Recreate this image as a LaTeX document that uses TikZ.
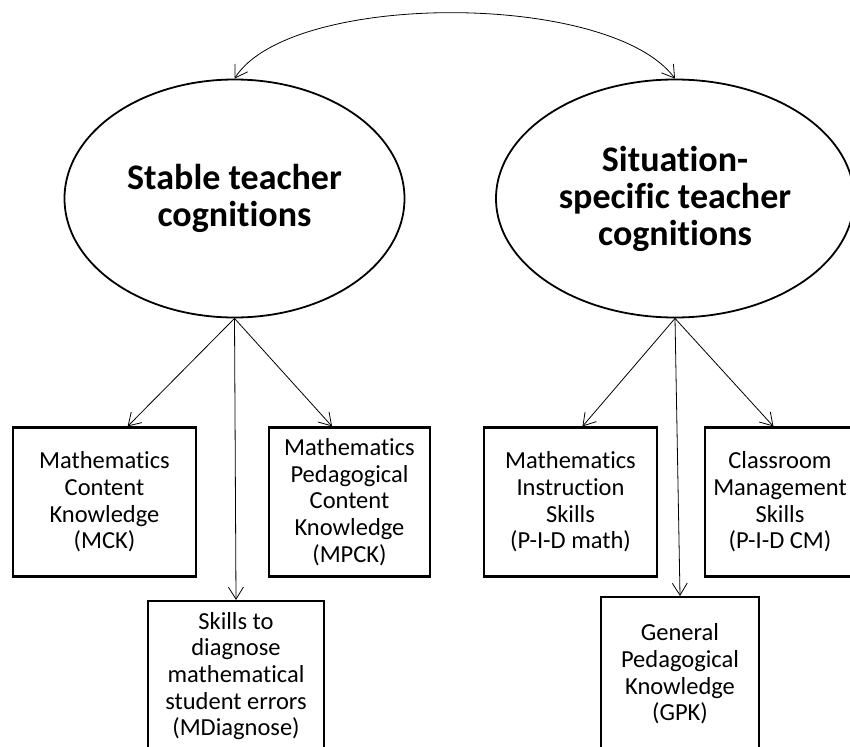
\documentclass[tikz,border=0pt]{standalone}
\usepackage{fontspec}
\setmainfont{Carlito}[Ligatures = NoCommon]
\usetikzlibrary{shapes.geometric, arrows.meta}

\begin{document}
\begin{tikzpicture}[x = 1pt, y = -1pt,
  cogn/.style = {ellipse, draw, line width = 1.8pt, inner sep = 0pt,
    minimum width = 340pt, minimum height = 238pt, align = center,
    font = \fontsize{36}{37}\selectfont\bfseries},
  skill/.style = {rectangle, draw, line width = 2.2pt, inner sep = 0pt,
    align = center, minimum height = 149pt,
    font = \fontsize{24.5}{26.6}\selectfont},
  link/.style = {line width = 0.8pt, -{Straight Barb[length = 12pt, width = 15pt]}}]
\useasboundingbox (0, 0) rectangle (850, 746);
\clip (0, 0) rectangle (850, 746);

% latent constructs
\node[cogn] (stable) at (234.5, 198.5) {Stable teacher\\cognitions};
\node[cogn, minimum width = 358pt] (situated) at (675, 198.5) {Situation-\\specific teacher\\cognitions};

% indicators
\node[skill, minimum width = 183pt] (mck) at (104.5, 502) {Mathematics\\Content\\Knowledge\\(MCK)};
\node[skill, minimum width = 161pt] (mpck) at (349.5, 502) {Mathematics\\Pedagogical\\Content\\Knowledge\\(MPCK)};
\node[skill, minimum width = 176pt, minimum height = 150pt] (mdiag) at (236, 676) {Skills to\\diagnose\\mathematical\\student errors\\(MDiagnose)};
\node[skill, minimum width = 173pt] (instr) at (570.5, 502) {Mathematics\\Instruction\\Skills\\(P-I-D math)};
\node[skill, minimum width = 150pt] (cm) at (780, 502) {Classroom\\Management\\Skills\\(P-I-D CM)};
\node[skill, minimum width = 158pt, minimum height = 154pt] (gpk) at (680, 674) {General\\Pedagogical\\Knowledge\\(GPK)};

\draw[link, {Straight Barb[length = 12pt, width = 15pt]}-{Straight Barb[length = 12pt, width = 15pt]}]
  (stable.north) .. controls (290, -9) and (610, -9) .. (situated.north);

\draw[link] (stable.south) -- (mck.73);
\draw[link] (stable.south) -- (mpck.103);
\draw[link] (stable.south) -- (mdiag.north);
\draw[link] (situated.south) -- (instr.81);
\draw[link] (situated.south) -- (cm.95);
\draw[link] (situated.south) -- (gpk.north);
\end{tikzpicture}
\end{document}
